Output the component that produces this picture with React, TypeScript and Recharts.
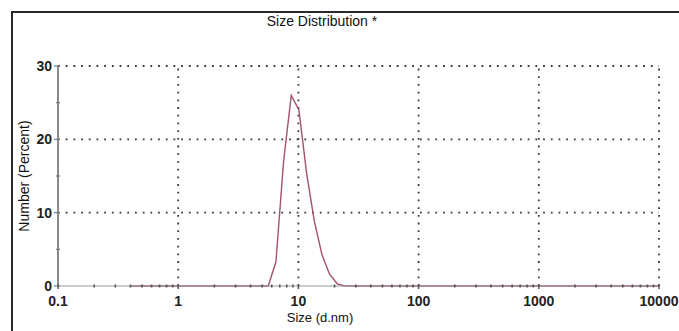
import React from 'react';
import { LineChart, Line, XAxis, YAxis, ReferenceLine } from 'recharts';

const sizes = [0.4, 5.615, 6.503, 7.531, 8.721, 10.1, 11.7, 13.54, 15.69, 18.17, 21.04, 24.36, 10000];
const numberPercent = [0, 0, 3.3, 17, 26, 24, 15.4, 8.9, 4.3, 1.6, 0.3, 0, 0];

const xMajorTicks = [0.1, 1, 10, 100, 1000, 10000];
const xTickLabels = ['0.1', '1', '10', '100', '1000', '10000'];
const xMinorTicks = [
  0.2, 0.3, 0.4, 0.5, 0.6, 0.7, 0.8, 0.9,
  2, 3, 4, 5, 6, 7, 8, 9,
  20, 30, 40, 50, 60, 70, 80, 90,
  200, 300, 400, 500, 600, 700, 800, 900,
  2000, 3000, 4000, 5000, 6000, 7000, 8000, 9000,
];
const yMajorTicks = [0, 10, 20, 30];
const yMinorTicks = [5, 15, 25];

const titleText = 'Size Distribution *';
const xTitle = 'Size (d.nm)';
const yTitle = 'Number (Percent)';

const data = sizes.map((s, i) => ({ size: s, value: numberPercent[i] }));
const allXTicks = [...xMajorTicks, ...xMinorTicks].sort((a, b) => a - b);
const allYTicks = [...yMajorTicks, ...yMinorTicks].sort((a, b) => a - b);

const FONT = '"Liberation Sans", Arial, sans-serif';

const XTick = (props: any) => {
  const { x, y, payload } = props;
  const idx = xMajorTicks.indexOf(payload.value);
  if (idx >= 0) {
    return (
      <g>
        <line x1={x} x2={x} y1={y - 2} y2={y + 3} stroke="#555" strokeWidth={1.5} />
        <text x={x} y={y + 15} textAnchor="middle" dominantBaseline="central" fontFamily={FONT} fontSize={14} fontWeight={700} fill="#222">
          {xTickLabels[idx]}
        </text>
      </g>
    );
  }
  return <line x1={x} x2={x} y1={y - 1.5} y2={y + 1.5} stroke="#555" strokeWidth={1.6} />;
};

const YTick = (props: any) => {
  const { x, y, payload } = props;
  if (yMajorTicks.includes(payload.value)) {
    return (
      <g>
        <line x1={x - 4} x2={x + 2} y1={y} y2={y} stroke="#777" strokeWidth={1.2} />
        <text x={x - 6} y={y} textAnchor="end" dominantBaseline="central" fontFamily={FONT} fontSize={14} fontWeight={700} fill="#222">
          {payload.value}
        </text>
      </g>
    );
  }
  return <line x1={x - 2} x2={x + 2} y1={y} y2={y} stroke="#777" strokeWidth={1.2} />;
};

export default function App() {
  return (
    <div style={{ position: 'relative', width: 679, height: 331, overflow: 'hidden', fontFamily: FONT, background: '#fff' }}>
      <style>{'html,body{margin:0;padding:0;overflow:hidden;}'}</style>
      <div style={{ position: 'absolute', left: 11, top: 11, width: 700, height: 2, background: '#2a2a2a' }} />
      <div style={{ position: 'absolute', left: 11, top: 11, width: 2, height: 400, background: '#2a2a2a' }} />
      <div style={{ position: 'absolute', left: 0, width: 644, top: 13, textAlign: 'center', fontSize: 14, color: '#111' }}>
        {titleText}
      </div>
      <div style={{ position: 'absolute', left: 0, width: 640, top: 311, textAlign: 'center', fontSize: 13, lineHeight: '14px', color: '#111' }}>
        {xTitle}
      </div>
      <div
        style={{
          position: 'absolute',
          left: 24 - 60,
          top: 176 - 8,
          width: 120,
          height: 16,
          lineHeight: '16px',
          textAlign: 'center',
          fontSize: 14,
          color: '#111',
          transform: 'rotate(-90deg)',
        }}
      >
        {yTitle}
      </div>
      <div style={{ position: 'absolute', left: 0, top: 0 }}>
        <LineChart width={679} height={331} data={data} margin={{ top: 66, right: 20, left: 18, bottom: 15 }}>
          <XAxis
            dataKey="size"
            type="number"
            scale="log"
            domain={[0.1, 10000]}
            ticks={allXTicks}
            interval={0}
            tick={<XTick />}
            tickLine={false}
            tickSize={0}
            tickMargin={0}
            axisLine={{ stroke: '#999', strokeWidth: 1.2 }}
            height={30}
            allowDataOverflow
          />
          <YAxis
            type="number"
            domain={[0, 30]}
            ticks={allYTicks}
            interval={0}
            tick={<YTick />}
            tickLine={false}
            tickSize={0}
            tickMargin={0}
            axisLine={{ stroke: '#8a8a8a', strokeWidth: 2 }}
            width={40}
          />
          {xMajorTicks.slice(1).map((v) => (
            <ReferenceLine key={'vx' + v} x={v} stroke="#3a3a3a" strokeWidth={1.8} strokeDasharray="1.8 5.9" />
          ))}
          {yMajorTicks.slice(1).map((v) => (
            <ReferenceLine key={'hy' + v} y={v} stroke="#3a3a3a" strokeWidth={1.8} strokeDasharray="1.8 5.9" />
          ))}
          <Line type="linear" dataKey="value" stroke="#a4526f" strokeWidth={1.4} dot={false} isAnimationActive={false} />
        </LineChart>
      </div>
    </div>
  );
}
